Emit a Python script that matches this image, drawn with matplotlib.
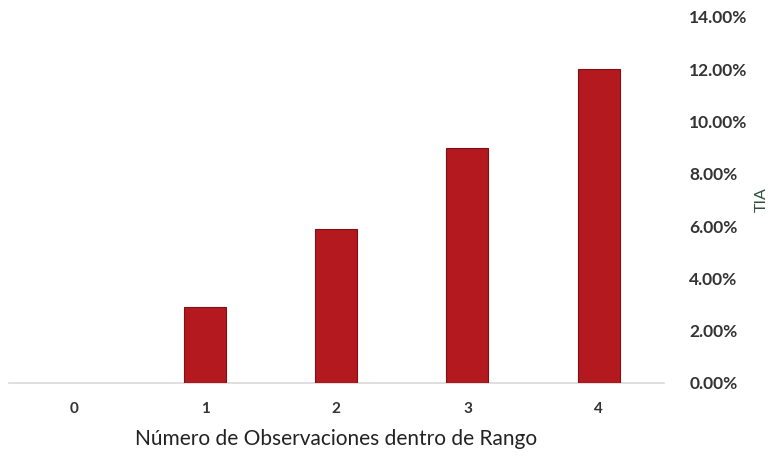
import matplotlib.pyplot as plt
from matplotlib.ticker import PercentFormatter

categorias = ['0', '1', '2', '3', '4']
tia = [0.0, 0.029, 0.059, 0.090, 0.120]
yticks = [0.0, 0.02, 0.04, 0.06, 0.08, 0.10, 0.12, 0.14]

plt.rcParams['font.family'] = ['Lato', 'DejaVu Sans']

fig = plt.figure(figsize=(7.75, 4.57), dpi=100)
ax = fig.add_axes([0.011, 0.162, 0.846, 0.801])

x = range(len(categorias))
bordes = [0 if v == 0 else 0.8 for v in tia]
ax.bar(x, tia, width=0.32, color='#B3191F', edgecolor='#7E1116', linewidth=bordes, zorder=3)

ax.set_xlim(-0.5, len(categorias) - 0.5)
ax.set_ylim(0, 0.14)
ax.set_xticks(list(x))
ax.set_xticklabels(categorias)
ax.set_yticks(yticks)
ax.yaxis.set_major_formatter(PercentFormatter(1.0, decimals=2))

# eje y a la derecha
ax.yaxis.tick_right()
ax.yaxis.set_label_position('right')

for s in ['top', 'left', 'right']:
    ax.spines[s].set_visible(False)
ax.spines['bottom'].set_color('#D9D9D9')
ax.spines['bottom'].set_linewidth(1.2)

ax.tick_params(axis='both', length=0, colors='#333333')
ax.tick_params(axis='x', pad=14, labelsize=11)
ax.tick_params(axis='y', pad=18, labelsize=12.5)
for lbl in ax.get_yticklabels() + ax.get_xticklabels():
    lbl.set_fontweight('bold')

ax.set_xlabel('Número de Observaciones dentro de Rango', fontsize=15, color='#222222', labelpad=9)
ax.set_ylabel('TIA', fontsize=11.5, color='#2F4F3F', labelpad=5)

fig.savefig('out.png', dpi=100)
